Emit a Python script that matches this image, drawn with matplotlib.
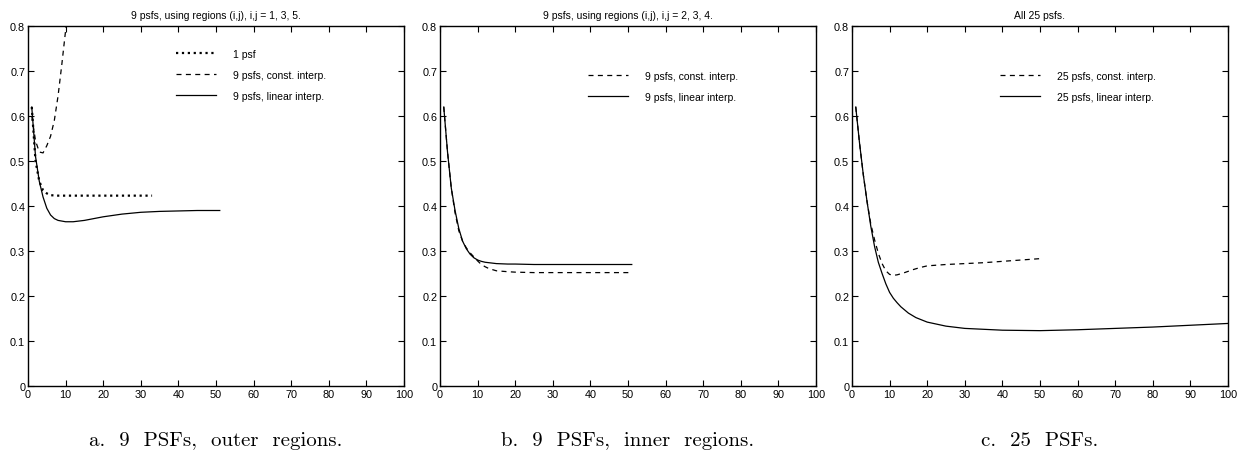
import matplotlib.pyplot as plt

# panel a: outer regions
a_one_x = [1, 2, 3, 4, 5, 6, 8, 10, 15, 20, 25, 30, 33]
a_one_y = [0.62, 0.50, 0.455, 0.435, 0.428, 0.424, 0.423, 0.423, 0.423, 0.423, 0.423, 0.423, 0.423]
a_const_x = [1, 2, 3, 4, 5, 6, 7, 8, 9, 10, 11]
a_const_y = [0.60, 0.545, 0.52, 0.518, 0.534, 0.555, 0.59, 0.645, 0.715, 0.79, 0.87]
a_lin_x = [1, 2, 3, 4, 5, 6, 7, 8, 10, 12, 15, 20, 25, 30, 35, 40, 45, 51]
a_lin_y = [0.62, 0.51, 0.455, 0.42, 0.395, 0.38, 0.372, 0.368, 0.365, 0.365, 0.368,
           0.376, 0.382, 0.386, 0.388, 0.389, 0.39, 0.39]

# panel b: inner regions
b_x = [1, 2, 3, 4, 5, 6, 7, 8, 9, 10, 11, 12, 13, 15, 18, 20, 25, 30, 40, 51]
b_const_y = [0.62, 0.52, 0.44, 0.385, 0.345, 0.322, 0.307, 0.296, 0.287, 0.278, 0.27,
             0.265, 0.261, 0.256, 0.254, 0.253, 0.252, 0.252, 0.252, 0.252]
b_lin_y = [0.62, 0.52, 0.44, 0.39, 0.35, 0.322, 0.305, 0.293, 0.285, 0.28, 0.277,
           0.275, 0.274, 0.272, 0.271, 0.271, 0.27, 0.27, 0.27, 0.27]

# panel c: all 25
c_const_x = [1, 2, 3, 4, 5, 6, 7, 8, 9, 10, 11, 12, 14, 16, 18, 20, 25, 30, 35, 40, 45, 50]
c_const_y = [0.62, 0.54, 0.47, 0.41, 0.36, 0.325, 0.295, 0.272, 0.256, 0.248, 0.246, 0.247,
             0.252, 0.258, 0.263, 0.267, 0.27, 0.272, 0.274, 0.277, 0.28, 0.283]
c_lin_x = [1, 2, 3, 4, 5, 6, 7, 8, 9, 10, 11, 12, 13, 14, 15, 17, 20, 25, 30, 40, 50,
           60, 70, 80, 90, 100]
c_lin_y = [0.62, 0.54, 0.47, 0.41, 0.355, 0.31, 0.275, 0.25, 0.227, 0.208, 0.195, 0.185,
           0.176, 0.169, 0.162, 0.152, 0.142, 0.133, 0.128, 0.124, 0.123, 0.125, 0.128,
           0.131, 0.135, 0.139]

titles = ["9 psfs, using regions (i,j), i,j = 1, 3, 5.",
          "9 psfs, using regions (i,j), i,j = 2, 3, 4.",
          "All 25 psfs."]
captions = ["a.  9  PSFs,  outer  regions.",
            "b.  9  PSFs,  inner  regions.",
            "c.  25  PSFs."]

plt.rcParams['font.family'] = ['Liberation Sans', 'DejaVu Sans']
fig = plt.figure(figsize=(12.43, 4.6), dpi=100)

lefts = [28, 440, 852]
axes = []
for left in lefts:
    ax = fig.add_axes([left / 1243, 73 / 460, 376 / 1243, 360 / 460])
    axes.append(ax)

dash = (0, (4, 3.5))
lw = 0.9

ax = axes[0]
ax.plot(a_one_x, a_one_y, color='black', linestyle=':', linewidth=1.6, label='1 psf')
ax.plot(a_const_x, a_const_y, color='black', linestyle=dash, linewidth=lw, label='9 psfs, const. interp.')
ax.plot(a_lin_x, a_lin_y, color='black', linestyle='-', linewidth=lw, label='9 psfs, linear interp.')

ax = axes[1]
ax.plot(b_x, b_const_y, color='black', linestyle=dash, linewidth=lw, label='9 psfs, const. interp.')
ax.plot(b_x, b_lin_y, color='black', linestyle='-', linewidth=lw, label='9 psfs, linear interp.')

ax = axes[2]
ax.plot(c_const_x, c_const_y, color='black', linestyle=dash, linewidth=lw, label='25 psfs, const. interp.')
ax.plot(c_lin_x, c_lin_y, color='black', linestyle='-', linewidth=lw, label='25 psfs, linear interp.')

legend_tops = [0.962, 0.902, 0.902]
for i, ax in enumerate(axes):
    ax.set_xlim(0, 100)
    ax.set_ylim(0, 0.8)
    ax.set_xticks(range(0, 101, 10))
    ax.set_yticks([0, 0.1, 0.2, 0.3, 0.4, 0.5, 0.6, 0.7, 0.8])
    ax.set_yticklabels(['0', '0.1', '0.2', '0.3', '0.4', '0.5', '0.6', '0.7', '0.8'])
    ax.tick_params(direction='in', top=True, right=True, labelsize=7.8, length=4,
                   width=0.8, pad=2)
    for s in ax.spines.values():
        s.set_linewidth(1.0)
    ax.set_title(titles[i], fontsize=7.5, pad=6)
    ax.legend(loc='upper left', bbox_to_anchor=(0.37, legend_tops[i]), frameon=False,
              fontsize=7.5, handlelength=3.8, handletextpad=1.6, labelspacing=1.05)
    ax.text(0.5, -0.15, captions[i], transform=ax.transAxes, ha='center', va='center',
            fontsize=15, family='cmr10')

fig.savefig('out.png', dpi=100)
